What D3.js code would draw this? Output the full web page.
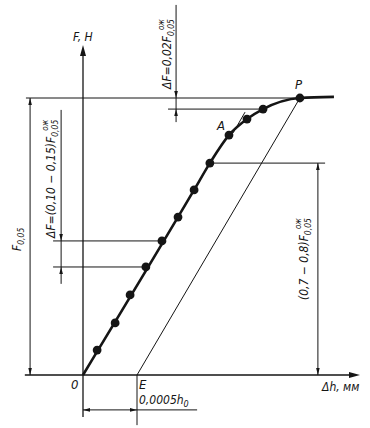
<!DOCTYPE html>
<html>
<head>
<meta charset="utf-8">
<script src="https://cdn.jsdelivr.net/npm/d3@7"></script>
<style>
	body { margin: 0; background: #fff; }
	text { font-family: "DejaVu Sans Condensed", "Liberation Sans Narrow", sans-serif; font-style: italic; fill: #151515; }
</style>
</head>
<body>
<div id="chart"></div>
<script>
// values (F in fractions of F0,05, Δh in fractions of axis length)
var dotDh = [0.051, 0.116, 0.170, 0.227, 0.285, 0.343, 0.401, 0.458, 0.527, 0.592, 0.650, 0.783];
var dotF = [0.090, 0.188, 0.289, 0.390, 0.484, 0.570, 0.668, 0.765, 0.866, 0.924, 0.960, 1.0];
var tailDh = 0.906, tailF = 1.004;
var pointE = 0.195;       // 0,0005 h0
var levelP = 1.0;         // F0,05
var level02 = 0.960;      // F0,05 - ΔF (0,02)
var levelBand = [0.484, 0.390]; // ΔF = (0,10-0,15)
var level78 = 0.765;      // (0,7-0,8) F0,05
var linearEnd = 6;        // last dot on the straight part

var width = 370, height = 428;
var svg = d3.select("#chart").append("svg")
	.attr("width", width).attr("height", height);
svg.append("rect").attr("width", width).attr("height", height).attr("fill", "#fff");

var x = d3.scaleLinear().domain([0, 1]).range([83, 360]);
var y = d3.scaleLinear().domain([0, 1]).range([375, 98]);

var ink = "#151515";

function seg(x1, y1, x2, y2, w) {
	svg.append("line")
		.attr("x1", x(x1)).attr("y1", y(y1))
		.attr("x2", x(x2)).attr("y2", y(y2))
		.attr("stroke", ink).attr("stroke-width", w || 1);
}

// arrow head, tip at data point, angle in degrees (0 = right, 90 = down)
function arrow(dx, df, angle, len, half) {
	len = len || 7; half = half || 1.8;
	svg.append("path")
		.attr("d", `M0,0L${-len},${-half}L${-len},${half}Z`)
		.attr("transform", `translate(${x(dx)},${y(df)}) rotate(${angle})`)
		.attr("fill", ink);
}

// axes
seg(-0.21, 0, 0.985, 0, 1.3);
arrow(1.0, 0, 0, 11, 3);
seg(0, -0.152, 0, 1.17, 1.3);
arrow(0, 1.191, -90, 11, 3);

// F0,05 level line and dimension
seg(-0.206, levelP, dotDh[11], levelP);
seg(-0.191, levelP, -0.191, 0);
arrow(-0.191, levelP, -90);
arrow(-0.191, 0, 90);

// ΔF = 0,02 F0,05
seg(0.307, level02, dotDh[10], level02);
seg(0.336, 1.336, 0.336, 0.913);
arrow(0.336, levelP, 90);
arrow(0.336, level02, -90);

// ΔF = (0,10-0,15) F0,05
seg(-0.108, levelBand[0], dotDh[4], levelBand[0]);
seg(-0.108, levelBand[1], dotDh[3], levelBand[1]);
seg(-0.079, 0.957, -0.079, 0.329);
arrow(-0.079, levelBand[0], 90);
arrow(-0.079, levelBand[1], -90);

// (0,7-0,8) F0,05
seg(dotDh[7], level78, 0.874, level78);
seg(0.848, level78, 0.848, 0);
arrow(0.848, level78, -90);
arrow(0.848, 0, 90);

// secant from E through P
seg(pointE, 0, dotDh[11], dotF[11]);

// 0,0005 h0 offset
seg(pointE, 0, pointE, -0.181);
seg(0, -0.126, 0.412, -0.126);
arrow(0, -0.126, 180);
arrow(pointE, -0.126, 0);

// tangent tick at A
seg(0.585, 0.949, 0.542, 0.874);

// loading curve: straight from the origin, then bending towards P
var curvePts = [[0, 0]]
	.concat(dotDh.map((d, i) => [d, dotF[i]]).slice(linearEnd))
	.concat([[tailDh, tailF]]);
svg.append("path")
	.datum(curvePts)
	.attr("fill", "none")
	.attr("stroke", ink)
	.attr("stroke-width", 2.6)
	.attr("stroke-linejoin", "round")
	.attr("d", d3.line().x((d) => x(d[0])).y((d) => y(d[1])).curve(d3.curveMonotoneX));

svg.selectAll(".dot")
	.data(dotDh.map((d, i) => [d, dotF[i]]))
	.join("circle")
	.attr("class", "dot")
	.attr("cx", (d) => x(d[0]))
	.attr("cy", (d) => y(d[1]))
	.attr("r", 4.4)
	.attr("fill", ink);

// labels
function label(px, py, str, size) {
	return svg.append("text").attr("x", px).attr("y", py)
		.attr("font-size", size || 12).text(str);
}
label(73, 41, "F, H");
label(295, 89, "P", 13);
label(217, 130, "A", 13);
label(71, 389, "0", 13);
label(139, 389, "E", 13);
var h0 = label(139, 404, "0,0005h", 12);
h0.append("tspan").attr("dy", 3).attr("font-size", 9).text("0");
label(322, 391, "Δh, мм", 12);

// rotated labels with F0,05 sub/superscripts
function vlabel(px, py, str, sup) {
	var t = svg.append("text")
		.attr("transform", `translate(${px},${py}) rotate(-90)`)
		.attr("font-size", 12);
	t.append("tspan").text(str);
	t.append("tspan").attr("dy", 3).attr("font-size", 8.5).text("0,05");
	if (sup) t.append("tspan").attr("dx", -11).attr("dy", -10).attr("font-size", 8).text("ож");
	return t;
}
vlabel(21, 251, "F", false);
vlabel(55, 238, "ΔF=(0,10 − 0,15)F", true);
vlabel(171, 89, "ΔF=0,02F", true);
vlabel(308, 300, "(0,7 − 0,8)F", true);
</script>
</body>
</html>
